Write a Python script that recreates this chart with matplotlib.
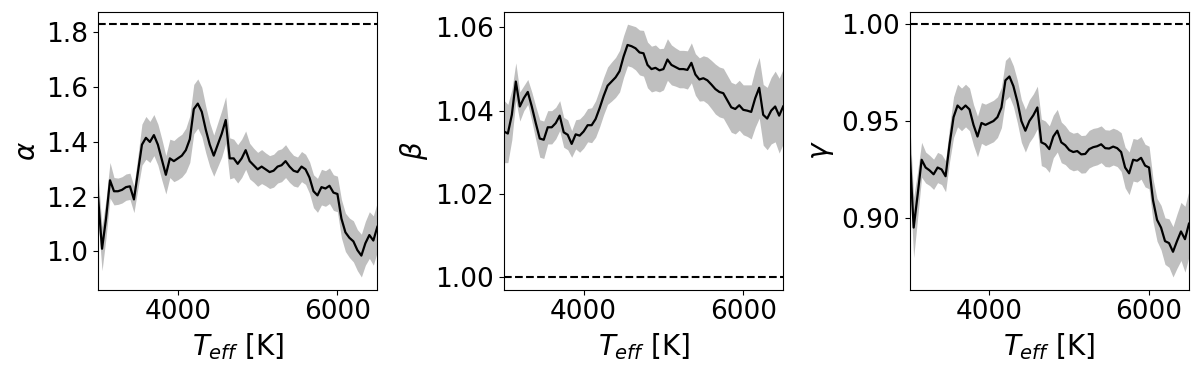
import numpy as np
import matplotlib
matplotlib.use("Agg")
import matplotlib.pyplot as plt

# Effective temperature grid [K]
teff = np.arange(3000, 6501, 50)

# alpha (mean and 1 sigma)
alpha = [1.20, 1.01, 1.12, 1.26, 1.22, 1.22, 1.225, 1.235, 1.238, 1.19,
         1.29, 1.39, 1.415, 1.40, 1.425, 1.39, 1.335, 1.28, 1.34, 1.33,
         1.34, 1.35, 1.37, 1.41, 1.52, 1.54, 1.51, 1.445, 1.39, 1.35,
         1.39, 1.43, 1.48, 1.34, 1.34, 1.32, 1.34, 1.37, 1.33, 1.315,
         1.30, 1.31, 1.30, 1.29, 1.295, 1.31, 1.315, 1.33, 1.31, 1.295,
         1.29, 1.31, 1.30, 1.27, 1.22, 1.205, 1.235, 1.23, 1.24, 1.215,
         1.21, 1.12, 1.07, 1.05, 1.037, 1.005, 0.985, 1.03, 1.06, 1.04,
         1.09]
alpha_err = [0.08, 0.08, 0.07, 0.065, 0.05, 0.048, 0.048, 0.048, 0.048, 0.048,
             0.06, 0.075, 0.078, 0.075, 0.075, 0.075, 0.075, 0.07, 0.07, 0.075,
             0.078, 0.078, 0.08, 0.085, 0.09, 0.09, 0.09, 0.085, 0.08, 0.075,
             0.08, 0.085, 0.085, 0.075, 0.07, 0.07, 0.07, 0.07, 0.065, 0.062,
             0.062, 0.062, 0.06, 0.06, 0.06, 0.06, 0.06, 0.06, 0.058, 0.056,
             0.055, 0.055, 0.055, 0.058, 0.06, 0.062, 0.065, 0.065, 0.065, 0.065,
             0.065, 0.07, 0.07, 0.072, 0.075, 0.075, 0.078, 0.08, 0.085, 0.09,
             0.09]
alpha_ref = 1.83

# beta
beta = [1.035, 1.0345, 1.039, 1.047, 1.041, 1.043, 1.0445, 1.041, 1.037, 1.0333,
        1.033, 1.036, 1.036, 1.037, 1.0388, 1.0348, 1.0342, 1.032, 1.0343, 1.034,
        1.035, 1.0365, 1.0365, 1.038, 1.0406, 1.0435, 1.046, 1.047, 1.048, 1.0495,
        1.053, 1.0558, 1.0555, 1.055, 1.054, 1.0538, 1.051, 1.050, 1.0503, 1.0497,
        1.050, 1.0523, 1.051, 1.0505, 1.050, 1.050, 1.0498, 1.0515, 1.0487, 1.0475,
        1.0478, 1.0473, 1.0463, 1.0452, 1.0445, 1.0442, 1.0425, 1.0408, 1.0404, 1.0413,
        1.0402, 1.040, 1.0397, 1.043, 1.0455, 1.039, 1.0381, 1.040, 1.041, 1.0388,
        1.041]
beta_err = [0.0075, 0.007, 0.006, 0.0045, 0.0035, 0.003, 0.003, 0.0035, 0.004, 0.0045,
            0.0045, 0.004, 0.004, 0.0038, 0.0036, 0.0036, 0.0036, 0.0032, 0.0035, 0.004,
            0.004, 0.004, 0.0042, 0.0044, 0.0045, 0.0045, 0.0045, 0.0047, 0.0048, 0.005,
            0.005, 0.005, 0.005, 0.0052, 0.0054, 0.0055, 0.0055, 0.0055, 0.0055, 0.0052,
            0.005, 0.005, 0.0048, 0.0046, 0.0045, 0.0045, 0.0046, 0.0048, 0.005, 0.0052,
            0.0054, 0.0056, 0.0058, 0.006, 0.006, 0.006, 0.006, 0.006, 0.006, 0.006,
            0.006, 0.0062, 0.0065, 0.007, 0.0073, 0.0073, 0.0075, 0.008, 0.0085, 0.009,
            0.009]
beta_ref = 1.0

# gamma
gamma = [0.935, 0.895, 0.912, 0.930, 0.926, 0.9245, 0.9225, 0.926, 0.925, 0.9215,
         0.938, 0.952, 0.958, 0.956, 0.958, 0.956, 0.948, 0.942, 0.949, 0.948,
         0.949, 0.950, 0.952, 0.957, 0.971, 0.973, 0.968, 0.960, 0.950, 0.945,
         0.950, 0.953, 0.957, 0.939, 0.938, 0.9355, 0.942, 0.945, 0.939, 0.9375,
         0.935, 0.934, 0.9345, 0.9328, 0.933, 0.9355, 0.9365, 0.937, 0.938, 0.936,
         0.9358, 0.9368, 0.936, 0.934, 0.926, 0.923, 0.930, 0.9295, 0.931, 0.927,
         0.926, 0.909, 0.899, 0.895, 0.888, 0.887, 0.8825, 0.888, 0.893, 0.889,
         0.897]
gamma_err = [0.0155, 0.0155, 0.012, 0.009, 0.008, 0.0078, 0.0078, 0.0078, 0.0078, 0.008,
             0.009, 0.0105, 0.011, 0.011, 0.011, 0.011, 0.0105, 0.0105, 0.0105, 0.0107,
             0.0107, 0.0107, 0.0105, 0.0104, 0.0103, 0.0103, 0.0105, 0.011, 0.011, 0.011,
             0.011, 0.011, 0.011, 0.012, 0.012, 0.012, 0.011, 0.011, 0.0105, 0.01,
             0.0097, 0.0097, 0.0097, 0.0097, 0.0097, 0.0097, 0.0097, 0.0096, 0.0095, 0.0095,
             0.0095, 0.0095, 0.0095, 0.01, 0.0105, 0.011, 0.011, 0.011, 0.011, 0.011,
             0.011, 0.011, 0.011, 0.0115, 0.012, 0.0125, 0.013, 0.014, 0.015, 0.017,
             0.017]
gamma_ref = 1.0

panels = [
    (alpha, alpha_err, alpha_ref, r"$\alpha$", [1.0, 1.2, 1.4, 1.6, 1.8], "%.1f"),
    (beta, beta_err, beta_ref, r"$\beta$", [1.00, 1.02, 1.04, 1.06], "%.2f"),
    (gamma, gamma_err, gamma_ref, r"$\gamma$", [0.90, 0.95, 1.00], "%.2f"),
]

fig, axes = plt.subplots(1, 3, figsize=(12, 3.72), dpi=100)
plt.subplots_adjust(left=0.0817, right=0.9908, bottom=0.2215, top=0.9690, wspace=0.453)

for ax, (mean, err, ref, label, yticks, fmt) in zip(axes, panels):
    mean = np.array(mean)
    err = np.array(err)
    ax.fill_between(teff, mean - err, mean + err, color="0.75", linewidth=0)
    ax.plot(teff, mean, color="black", linewidth=1.6)
    ax.axhline(ref, color="black", linestyle="--", linewidth=1.5)
    ax.set_xlim(3000, 6500)
    ax.set_xticks([4000, 6000])
    ax.set_yticks(yticks)
    ax.set_yticklabels([fmt % t for t in yticks])
    ax.tick_params(labelsize=19)
    ax.set_xlabel(r"$T_{eff}$ [K]", fontsize=20)
    ax.set_ylabel(label, fontsize=20)

plt.savefig("out.png", dpi=100)
plt.close()
